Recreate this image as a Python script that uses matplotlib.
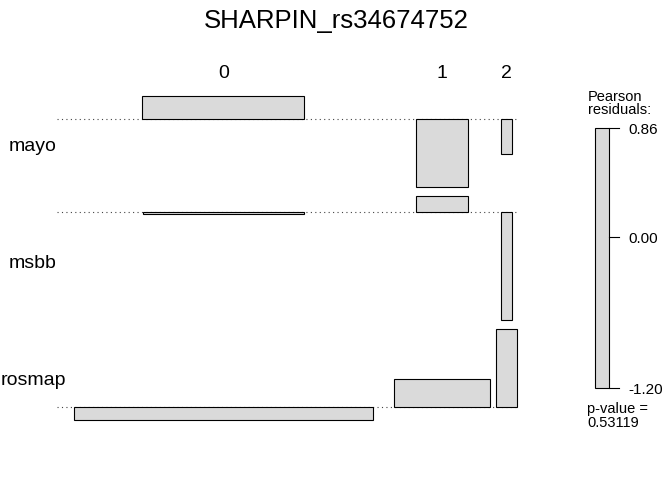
import matplotlib
matplotlib.use("Agg")
import numpy as np
from matplotlib import pyplot as plt
from matplotlib.patches import Rectangle

plt.rcParams['font.family'] = ['Liberation Sans', 'DejaVu Sans']

title = "SHARPIN_rs34674752"
rows = ['mayo', 'msbb', 'rosmap']
cols = ['0', '1', '2']
# pearson residuals (rows x cols)
residuals = np.array([[0.26, -0.75, -0.39],
                      [-0.02, 0.18, -1.20],
                      [-0.15, 0.31, 0.86]])
# expected counts -> box width ~ sqrt(expected)
expected = np.array([[291.0, 30.0, 1.44],
                     [288.0, 30.0, 1.44],
                     [990.0, 102.0, 4.9]])
legend_ticks = [0.86, 0.00, -1.20]
p_value = "0.53119"

# layout (pixels)
sx = 9.5     # px per sqrt(expected)
sy = 90.0    # px per residual unit
x0 = 74
col_gaps = [21, 6]
y0 = 96
row_gap = 9
fill = '#dadada'

fig = plt.figure(figsize=(6.72, 4.8), dpi=100)
ax = fig.add_axes([0, 0, 1, 1])
ax.set_xlim(0, 672)
ax.set_ylim(480, 0)
ax.axis('off')

widths = np.sqrt(expected) * sx
colw = widths.max(axis=0)
centers = []
x = x0
for j in range(len(cols)):
    centers.append(x + colw[j] / 2)
    x += colw[j] + (col_gaps[j] if j < len(col_gaps) else 0)
x_right = x

y = y0
for i, r in enumerate(rows):
    pos = max(residuals[i].max(), 0) * sy
    neg = max(-residuals[i].min(), 0) * sy
    base = y + pos
    ax.plot([57, x_right + 1], [base, base], color='#444444', lw=0.8,
            linestyle=(0, (1, 3)), zorder=1)
    for j in range(len(cols)):
        h = residuals[i, j] * sy
        ax.add_patch(Rectangle((centers[j] - widths[i, j] / 2, base - max(h, 0)),
                               widths[i, j], abs(h), facecolor=fill,
                               edgecolor='black', lw=0.8, zorder=2))
    ax.text(33, y + (pos + neg) / 2 + 10, r, ha='center', va='baseline', fontsize=14)
    y = base + neg + row_gap

for j, c in enumerate(cols):
    ax.text(centers[j], 74, c, ha='center', va='center', fontsize=14)

ax.text(336, 21, title, ha='center', va='center', fontsize=18.5)

# legend
lx, lw_ = 595, 14
ltop, lbot = 128, 388
rmax, rmin = max(legend_ticks), min(legend_ticks)
ax.add_patch(Rectangle((lx, ltop), lw_, lbot - ltop, facecolor=fill,
                       edgecolor='black', lw=0.8))
for t in legend_ticks:
    ty = ltop + (rmax - t) / (rmax - rmin) * (lbot - ltop)
    ax.plot([lx + lw_, lx + lw_ + 10], [ty, ty], color='black', lw=0.8)
    ax.text(lx + lw_ + 19, ty + 2, "%.2f" % t, ha='left', va='center', fontsize=11)
ax.text(588, 101, "Pearson", ha='left', va='baseline', fontsize=10.5)
ax.text(588, 114, "residuals:", ha='left', va='baseline', fontsize=10.5)
ax.text(587, 413, "p-value =", ha='left', va='baseline', fontsize=10.5)
ax.text(587, 427, p_value, ha='left', va='baseline', fontsize=10.5)

fig.savefig("out.png", dpi=100)
